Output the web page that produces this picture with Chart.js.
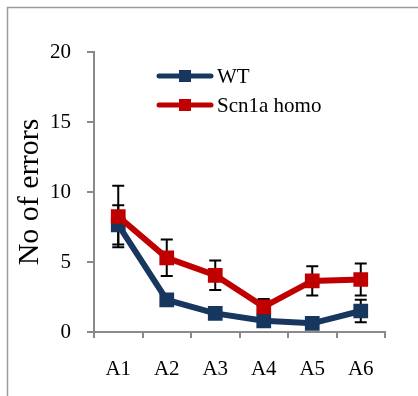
<!DOCTYPE html>
<html>
<head>
<meta charset="utf-8">
<script src="https://cdn.jsdelivr.net/npm/chart.js@4/dist/chart.umd.min.js"></script>
<style>
  html, body { margin: 0; padding: 0; background: #fff; }
  #wrap { width: 418px; height: 396px; position: relative; }
</style>
</head>
<body>
<div id="wrap"><canvas id="errChart"></canvas></div>
<script>
const categories = ['A1', 'A2', 'A3', 'A4', 'A5', 'A6'];
const wtMean = [7.65, 2.3, 1.33, 0.8, 0.62, 1.5];
const wtErr = [1.4, 0.3, 0.3, 0.2, 0.2, 0.8];
const homoMean = [8.25, 5.3, 4.05, 1.8, 3.65, 3.75];
const homoErr = [2.2, 1.3, 1.05, 0.55, 1.05, 1.15];
const yTicks = [0, 5, 10, 15, 20];

const WT_COLOR = '#17375E';
const HOMO_COLOR = '#C00000';
const AXIS_GREY = '#8a8a8a';
const SERIF = '"Liberation Serif", "DejaVu Serif", serif';

// outer frame of the original figure (only top + left visible)
const framePlugin = {
  id: 'frame',
  beforeDraw(chart) {
    const c = chart.ctx;
    c.save();
    c.strokeStyle = '#9a9a9a';
    c.lineWidth = 1.5;
    c.strokeRect(7.5, 7.5, 600, 600);
    c.restore();
  }
};

// vertical error bars with caps, under the lines
const errorBarPlugin = {
  id: 'errorBars',
  beforeDatasetsDraw(chart) {
    const c = chart.ctx;
    const x = chart.scales.x, y = chart.scales.y;
    c.save();
    c.strokeStyle = '#000';
    c.lineWidth = 2;
    chart.data.datasets.forEach(ds => {
      ds.data.forEach((v, i) => {
        const e = ds.errors[i];
        const px = x.getPixelForValue(i);
        const top = y.getPixelForValue(v + e);
        const bot = y.getPixelForValue(Math.max(v - e, 0));
        c.beginPath();
        c.moveTo(px, top); c.lineTo(px, bot);
        c.moveTo(px - 6, top); c.lineTo(px + 6, top);
        c.moveTo(px - 6, bot); c.lineTo(px + 6, bot);
        c.stroke();
      });
    });
    c.restore();
  }
};

// legend drawn inside the plot like the original
const legendPlugin = {
  id: 'insideLegend',
  afterDraw(chart) {
    const c = chart.ctx;
    const items = [
      { label: 'WT', color: WT_COLOR, y: 76 },
      { label: 'Scn1a homo', color: HOMO_COLOR, y: 105 }
    ];
    c.save();
    items.forEach(it => {
      c.strokeStyle = it.color;
      c.lineWidth = 5;
      c.lineCap = 'round';
      c.beginPath();
      c.moveTo(159, it.y); c.lineTo(211, it.y);
      c.stroke();
      c.fillStyle = it.color;
      c.fillRect(179, it.y - 6, 12, 12);
      c.fillStyle = '#000';
      c.font = '21px ' + SERIF;
      c.textBaseline = 'middle';
      c.fillText(it.label, 217, it.y + 1);
    });
    c.restore();
  }
};

new Chart(document.getElementById('errChart'), {
  type: 'line',
  data: {
    labels: categories,
    datasets: [
      { label: 'WT', data: wtMean, errors: wtErr, order: 1,
        borderColor: WT_COLOR, backgroundColor: WT_COLOR, borderWidth: 6,
        pointStyle: 'rect', pointRadius: 9, pointBorderWidth: 2 },
      { label: 'Scn1a homo', data: homoMean, errors: homoErr, order: 0,
        borderColor: HOMO_COLOR, backgroundColor: HOMO_COLOR, borderWidth: 6,
        pointStyle: 'rect', pointRadius: 9, pointBorderWidth: 2 }
    ]
  },
  options: {
    responsive: true,
    maintainAspectRatio: false,
    animation: false,
    layout: { padding: { left: 6, top: 52, right: 33, bottom: 0 } },
    plugins: { legend: { display: false }, tooltip: { enabled: false } },
    scales: {
      x: {
        offset: true,
        grid: { offset: true, drawOnChartArea: false, tickLength: 6, color: AXIS_GREY, lineWidth: 2 },
        border: { color: AXIS_GREY, width: 2 },
        ticks: { color: '#000', padding: 19, font: { family: SERIF, size: 21 } },
        afterFit: s => { s.height = 64; }
      },
      y: {
        min: 0, max: 20,
        afterBuildTicks: s => { s.ticks = yTicks.map(v => ({ value: v })); },
        grid: { drawOnChartArea: false, tickLength: 7, color: AXIS_GREY, lineWidth: 2 },
        border: { color: AXIS_GREY, width: 2 },
        ticks: { color: '#000', padding: 16, font: { family: SERIF, size: 21 } },
        title: { display: true, text: 'No of errors', color: '#000', padding: { top: 6, bottom: 0 },
                 font: { family: SERIF, size: 30 } },
        afterFit: s => { s.width = 88; }
      }
    }
  },
  plugins: [framePlugin, errorBarPlugin, legendPlugin]
});
</script>
</body>
</html>
